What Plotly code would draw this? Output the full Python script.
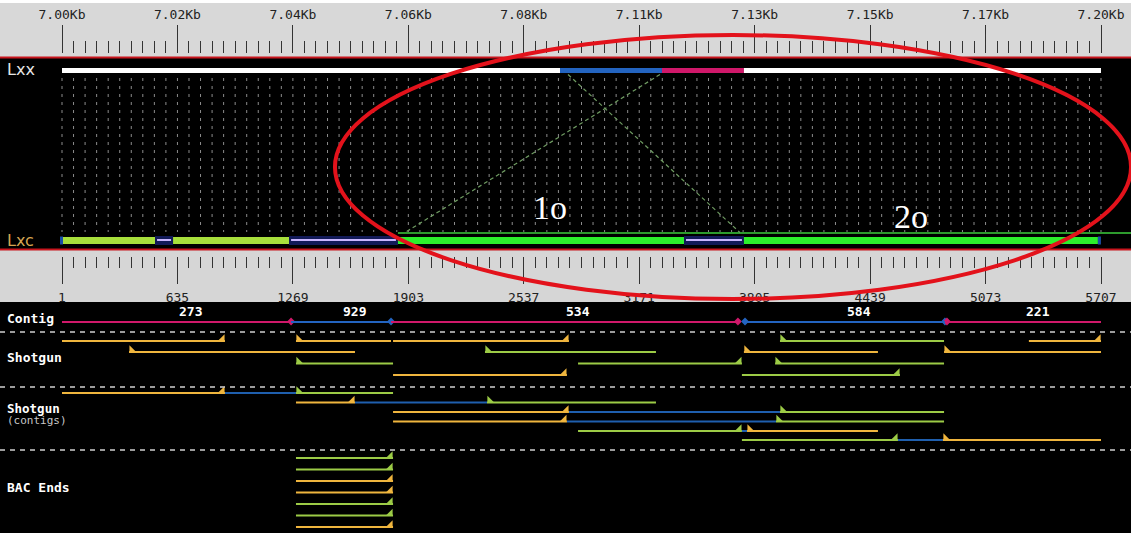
import plotly.graph_objects as go

W, H = 1131, 533

# ---- sequence coordinates and ruler labels ----
SEQ_START, SEQ_END = 1, 5707
MAJOR_TICKS = [1, 635, 1269, 1903, 2537, 3171, 3805, 4439, 5073, 5707]
MAJOR_LABELS = ["1", "635", "1269", "1903", "2537", "3171", "3805", "4439", "5073", "5707"]
KB_LABELS = ["7.00Kb", "7.02Kb", "7.04Kb", "7.06Kb", "7.08Kb",
             "7.11Kb", "7.13Kb", "7.15Kb", "7.17Kb", "7.20Kb"]
MINOR_STEP = 63.4

# ---- Lxx reference bar ----
LXX_START = [1, 2736, 3296, 3746]
LXX_END = [2736, 3296, 3746, 5707]
LXX_KIND = ["plain", "blue", "red", "plain"]

# ---- Lxc assembly bar ----
LXC_START = [1, 512, 611, 1248, 1846, 3417, 3746]
LXC_END = [512, 611, 1248, 1846, 3417, 3746, 5690]
LXC_KIND = ["lime", "gap", "lime", "gap", "green", "gap", "green"]

# links between Lxx and Lxc
LINK_TOP = [2780, 3285]
LINK_BOTTOM = [3724, 1885]

# ---- contigs ----
CONTIG_START = [1, 1259, 1808, 3752, 4861]
CONTIG_END = [1259, 1808, 3713, 4850, 5707]
CONTIG_NAME = ["273", "929", "534", "584", "221"]
CONTIG_KIND = ["red", "blue", "red", "blue", "red"]

# ---- shotgun reads ----
SG_LANE = [0, 0, 0, 0, 0, 1, 1, 1, 1, 2, 2, 2, 3, 3]
SG_START = [1, 1286, 1819, 3944, 5311, 369, 2324, 3746, 4845, 1286, 2835, 3917, 1819, 3735]
SG_END = [896, 1808, 2785, 4845, 5707, 1610, 3263, 4482, 5707, 1819, 3735, 4845, 2774, 4603]
SG_KIND = ["o", "o", "o", "g", "o", "o", "g", "o", "o", "g", "g", "g", "o", "g"]
SG_STRAND = [1, -1, 1, -1, 1, -1, -1, -1, -1, -1, 1, -1, 1, 1]

# ---- shotgun read pairs (contigs) ----
PAIR_L_START = [1, 1286, 1819, 1819, 2835, 3735]
PAIR_L_END = [896, 1610, 2785, 2774, 3735, 4592]
PAIR_L_KIND = ["o", "o", "o", "o", "g", "g"]
PAIR_R_START = [1286, 2335, 3944, 3922, 3763, 4839]
PAIR_R_END = [1819, 3263, 4845, 4845, 4482, 5707]
PAIR_R_KIND = ["g", "g", "g", "g", "o", "o"]

# ---- BAC ends ----
BAC_START = [1286, 1286, 1286, 1286, 1286, 1286, 1286]
BAC_END = [1819, 1819, 1819, 1819, 1819, 1819, 1819]
BAC_KIND = ["g", "g", "o", "o", "g", "g", "o"]

# ---- styling ----
COL = {"o": "#efb53e", "g": "#9ccb46", "link": "#1f5fae",
       "red": "#d0186a", "blue": "#2364c0", "plain": "#ffffff",
       "lime": "#a8e03c", "green": "#2cf02c", "gap": "#121a58"}
MONO = "DejaVu Sans Mono"

# pixel geometry of the sequence span
PX_LEFT, PX_RIGHT = 62, 1101
UNITS_PER_PX = (SEQ_END - SEQ_START) / (PX_RIGHT - PX_LEFT)
X_RANGE = [SEQ_START - PX_LEFT * UNITS_PER_PX, SEQ_START + (W - PX_LEFT) * UNITS_PER_PX]

# lane rows (pixels from top)
Y_LXX, Y_LXC = 70.5, 240.5
Y_CONTIG = 322
SG_ROWS = [341, 352, 363.5, 375]
PAIR_ROWS = [393, 402.5, 412, 421.5, 431, 440]
BAC_ROWS = [458 + 11.5 * i for i in range(7)]

minor_all = [SEQ_START + MINOR_STEP * k for k in range(int((SEQ_END - SEQ_START) / MINOR_STEP + 0.5) + 1)]
minor_only = [v for k, v in enumerate(minor_all) if k % 10 != 0]

fig = go.Figure()
shapes = []
annotations = []


def band(y0, y1, color):
    shapes.append(dict(type="rect", xref="paper", yref="y", x0=0, x1=1, y0=y0, y1=y1,
                       fillcolor=color, line_width=0, layer="below"))


# panels
band(3, 57, "#d8d8d8")
band(57, 250, "#000000")
band(250, 302, "#d6d6d6")
band(302, 533, "#000000")
for yy in (57.5, 249.5):
    shapes.append(dict(type="line", xref="paper", yref="y", x0=0, x1=1, y0=yy, y1=yy,
                       line=dict(color="#c8151d", width=2), layer="below"))

# dotted grid between the two bars
gx, gy = [], []
for v in minor_all:
    gx += [v, v, None]
    gy += [78, 232, None]
fig.add_trace(go.Scatter(x=gx, y=gy, mode="lines", hoverinfo="skip",
                         line=dict(color="#8c8c8c", width=1, dash="3px,5px")))

# Lxx bar
for s, e, k in zip(LXX_START, LXX_END, LXX_KIND):
    shapes.append(dict(type="rect", xref="x", yref="y", x0=s, x1=e, y0=Y_LXX - 2.5, y1=Y_LXX + 2.5,
                       fillcolor=COL[k], line_width=0))

# Lxc bar
shapes.append(dict(type="line", xref="x", yref="y", x0=LXC_START[4], x1=X_RANGE[1],
                   y0=Y_LXC - 7.5, y1=Y_LXC - 7.5, line=dict(color="#3ccf3c", width=1.5)))
for s, e, k in zip(LXC_START, LXC_END, LXC_KIND):
    if k == "gap":
        shapes.append(dict(type="rect", xref="x", yref="y", x0=s, x1=e, y0=Y_LXC - 4.5, y1=Y_LXC + 4.5,
                           fillcolor=COL["gap"], line_width=0))
        shapes.append(dict(type="line", xref="x", yref="y", x0=s + 2 * UNITS_PER_PX, x1=e - 2 * UNITS_PER_PX,
                           y0=Y_LXC - 0.5, y1=Y_LXC - 0.5, line=dict(color="#c9b6ff", width=2)))
    else:
        shapes.append(dict(type="rect", xref="x", yref="y", x0=s, x1=e, y0=Y_LXC - 3.5, y1=Y_LXC + 3.5,
                           fillcolor=COL[k], line_width=0))
for s, e in ((LXC_START[0] - 2 * UNITS_PER_PX, LXC_START[0] + 1 * UNITS_PER_PX),
             (LXC_END[-1], LXC_END[-1] + 3 * UNITS_PER_PX)):
    shapes.append(dict(type="rect", xref="x", yref="y", x0=s, x1=e, y0=Y_LXC - 4, y1=Y_LXC + 4,
                       fillcolor="#1a4fa8", line_width=0))

# alignment links
for t, b in zip(LINK_TOP, LINK_BOTTOM):
    shapes.append(dict(type="line", xref="x", yref="y", x0=t, x1=b, y0=Y_LXX + 4, y1=Y_LXC - 8,
                       line=dict(color="#6f9c62", width=1.2, dash="4px,3px")))

# contig line
for s, e, k, name in zip(CONTIG_START, CONTIG_END, CONTIG_KIND, CONTIG_NAME):
    shapes.append(dict(type="line", xref="x", yref="y", x0=s, x1=e, y0=Y_CONTIG, y1=Y_CONTIG,
                       line=dict(color=COL[k], width=2)))
    annotations.append(dict(x=(s + e) / 2, y=Y_CONTIG - 11, xref="x", yref="y", text=name,
                            showarrow=False, xanchor="left", yanchor="middle",
                            font=dict(family=MONO, size=13, color="#ffffff", weight="bold")))
dot_x, dot_c = [], []
for i in range(len(CONTIG_START) - 1):
    dot_x.append(CONTIG_END[i]); dot_c.append(COL[CONTIG_KIND[i]])
    if CONTIG_START[i + 1] != CONTIG_END[i]:
        dot_x.append(CONTIG_START[i + 1]); dot_c.append(COL[CONTIG_KIND[i + 1]])
fig.add_trace(go.Scatter(x=dot_x, y=[Y_CONTIG - 0.5] * len(dot_x), mode="markers", hoverinfo="skip",
                         marker=dict(symbol="diamond", size=6, color=dot_c, line_width=0)))

# read segments and arrowheads
seg = {"o": ([], []), "g": ([], []), "link": ([], [])}
heads = {("o", 1): ([], []), ("o", -1): ([], []), ("g", 1): ([], []), ("g", -1): ([], [])}
head_dx = 2.5 * UNITS_PER_PX


def read(s, e, y, kind, strand):
    seg[kind][0].extend([s, e, None])
    seg[kind][1].extend([y, y, None])
    hx = e - head_dx if strand > 0 else s + head_dx
    heads[(kind, strand)][0].append(hx)
    heads[(kind, strand)][1].append(y - 2.5)


for ln, s, e, k, st in zip(SG_LANE, SG_START, SG_END, SG_KIND, SG_STRAND):
    read(s, e, SG_ROWS[ln], k, st)
for i in range(len(PAIR_L_START)):
    y = PAIR_ROWS[i]
    seg["link"][0].extend([PAIR_L_END[i], PAIR_R_START[i], None])
    seg["link"][1].extend([y, y, None])
    read(PAIR_L_START[i], PAIR_L_END[i], y, PAIR_L_KIND[i], 1)
    read(PAIR_R_START[i], PAIR_R_END[i], y, PAIR_R_KIND[i], -1)
for i, (s, e, k) in enumerate(zip(BAC_START, BAC_END, BAC_KIND)):
    read(s, e, BAC_ROWS[i], k, 1)

for kind in ("link", "o", "g"):
    xs, ys = seg[kind]
    fig.add_trace(go.Scatter(x=xs, y=ys, mode="lines", hoverinfo="skip",
                             line=dict(color=COL[kind], width=2)))
for (kind, strand), (xs, ys) in heads.items():
    fig.add_trace(go.Scatter(x=xs, y=ys, mode="markers", hoverinfo="skip",
                             marker=dict(symbol="triangle-se" if strand > 0 else "triangle-sw",
                                         size=7, color=COL[kind], line_width=0)))

# separators
for yy in (332, 387, 450):
    shapes.append(dict(type="line", xref="paper", yref="y", x0=0, x1=1, y0=yy, y1=yy,
                       line=dict(color="#cfcfcf", width=1.5, dash="5px,5px")))

# highlighted region and handwritten labels
shapes.append(dict(type="circle", xref="x", yref="y", x0=1500, x1=5872, y0=35, y1=299,
                   line=dict(color="#e3121b", width=4)))
for txt, xv, yv in (("1o", 2681, 207), ("2o", 4664, 216)):
    annotations.append(dict(x=xv, y=yv, xref="x", yref="y", text=txt, showarrow=False,
                            font=dict(family="Liberation Serif", size=34, color="#ffffff")))


# track labels
def label(text, y, color="#ffffff", size=13, bold=True, family=MONO):
    annotations.append(dict(x=5 / W, y=y, xref="paper", yref="y", text=text, showarrow=False,
                            xanchor="left", yanchor="middle",
                            font=dict(family=family, size=size, color=color,
                                      weight="bold" if bold else "normal")))


label("Lxx", 69, "#e6e6e6", 16, False, "DejaVu Sans")
label("Lxc", 240, "#d6a552", 16, False, "DejaVu Sans")
label("Contig", 318)
label("Shotgun", 357)
label("Shotgun", 408, size=12.5)
label("(contigs)", 420.5, "#c8c8c8", 11, False)
label("BAC Ends", 487)

axis_common = dict(range=X_RANGE, showgrid=False, zeroline=False, showline=False,
                   tickmode="array", tickvals=MAJOR_TICKS, ticks="outside",
                   tickcolor="#333333", tickwidth=1.3,
                   tickfont=dict(family=MONO, size=13, color="#222222"))

fig.update_layout(
    width=W, height=H, margin=dict(l=0, r=0, t=0, b=0),
    paper_bgcolor="#ffffff", plot_bgcolor="rgba(0,0,0,0)",
    showlegend=False, shapes=shapes, annotations=annotations,
    xaxis=dict(range=X_RANGE, visible=False, fixedrange=True),
    yaxis=dict(range=[H, 0], visible=False, fixedrange=True),
    xaxis2=dict(**axis_common, overlaying="x", anchor="free", position=1 - 53 / H, side="top",
                ticklen=28, ticktext=KB_LABELS, ticklabelstandoff=1,
                minor=dict(tickmode="array", tickvals=minor_only, ticklen=12, ticks="outside",
                           tickcolor="#333333", tickwidth=1.3, showgrid=False)),
    xaxis3=dict(**axis_common, overlaying="x", anchor="free", position=1 - 256 / H, side="bottom",
                ticklen=27, ticktext=MAJOR_LABELS, ticklabelstandoff=2,
                minor=dict(tickmode="array", tickvals=minor_only, ticklen=11, ticks="outside",
                           tickcolor="#333333", tickwidth=1.3, showgrid=False)),
)
# invisible anchors so both rulers are rendered
fig.add_trace(go.Scatter(x=[SEQ_START], y=[0], xaxis="x2", mode="markers",
                         marker=dict(opacity=0), hoverinfo="skip"))
fig.add_trace(go.Scatter(x=[SEQ_START], y=[0], xaxis="x3", mode="markers",
                         marker=dict(opacity=0), hoverinfo="skip"))

fig.write_html("out.html")
